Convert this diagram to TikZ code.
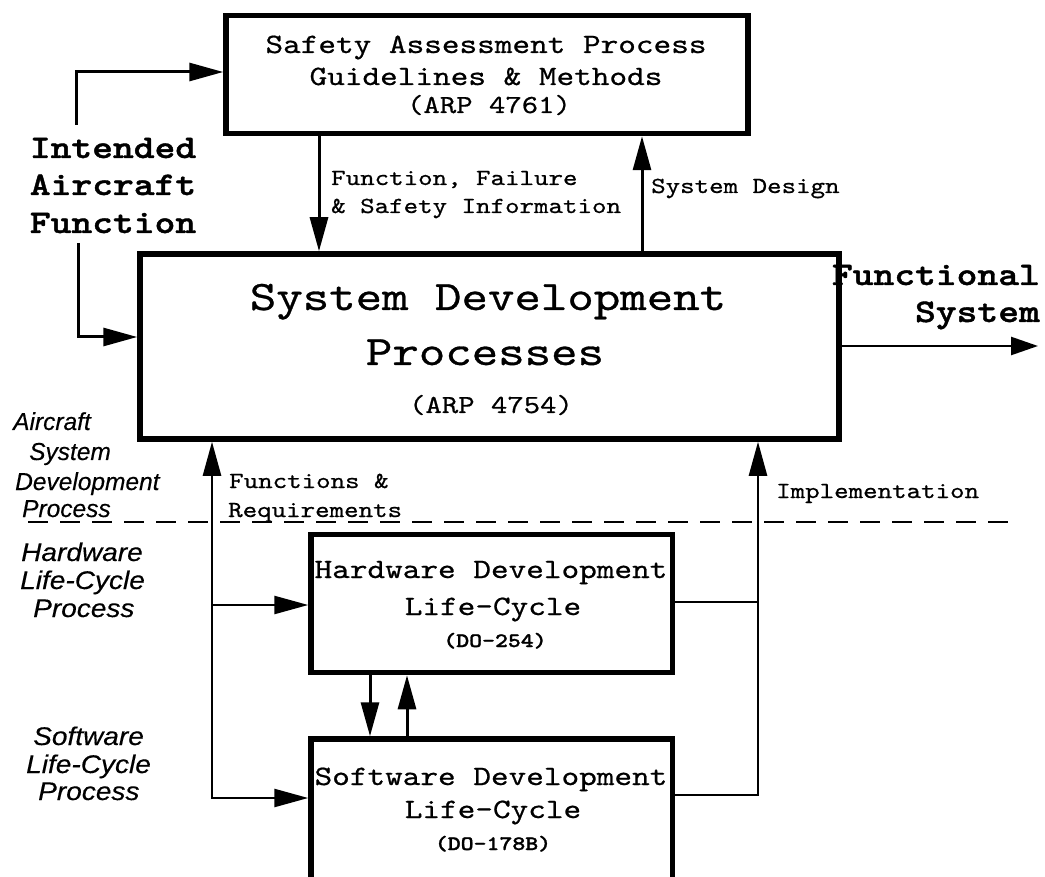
\documentclass[tikz,border=0pt]{standalone}
\usepackage{fontspec}
\usetikzlibrary{arrows.meta}
% Courier-like typewriter faces (Latin Modern Mono widened to Courier proportions)
\newfontfamily\mono[FakeStretch=1.2,FakeBold=0.7]{lmmono10-regular.otf}
\newfontfamily\monob[FakeStretch=1.2,FakeBold=1.2]{lmmonolt10-bold.otf}
% Helvetica-like italic side labels
\newfontfamily\helv[FakeBold=0.3]{Liberation Sans}
\newfontfamily\helvw[FakeStretch=1.1,FakeBold=0.3]{Liberation Sans}
\newcommand{\fsz}[1]{\fontsize{#1}{#1}\selectfont}

\begin{document}
\begin{tikzpicture}[x=1pt,y=-1pt,
  box/.style={draw, line width=5.5pt, rectangle, inner sep=0pt},
  txt/.style={inner sep=0pt, anchor=base},
  ltxt/.style={inner sep=0pt, anchor=base west},
  rtxt/.style={inner sep=0pt, anchor=base east},
  conn/.style={line width=3pt, -{Triangle[length=34pt,width=18pt]}},
  thinconn/.style={line width=2.5pt, -{Triangle[length=34pt,width=18pt]}},
  plainline/.style={line width=2.5pt},
  boxfont/.style={font=\mono\fsz{28}},
  reffont/.style={font=\mono\fsz{26}},
  bigfont/.style={font=\mono\fsz{42}},
  lblfont/.style={font=\mono\fsz{23}},
  boldlbl/.style={font=\monob\fsz{33}},
  docfont/.style={font=\monob\fsz{20.5}},
  sidefont/.style={font=\helv\itshape\fsz{24.5}},
  sidefontw/.style={font=\helvw\itshape\fsz{25.5}}]

\fill[white] (0,0) rectangle (1045,877);
\useasboundingbox (0,0) rectangle (1045,877);

% ---- process boxes ----
\node[box, minimum width=522pt, minimum height=118pt] (safety) at (487,74.5) {};
\node[box, minimum width=699pt, minimum height=185pt] (sdp) at (489.5,346.5) {};
\node[box, minimum width=361.5pt, minimum height=138pt] (hw) at (491.75,603.5) {};
\node[box, minimum width=361.5pt, minimum height=143pt] (sw) at (491.75,810.5) {};

% ---- box texts ----
\node[txt, boxfont] (safety1) at (486,53) {Safety Assessment Process};
\node[txt, boxfont] (safety2) at (486,85) {Guidelines \& Methods};
\node[txt, reffont] (safety3) at (489,113) {(ARP 4761)};

\node[txt, bigfont] (sdp1) at (488,310) {System Development};
\node[txt, bigfont] (sdp2) at (485,365) {Processes};
\node[txt, reffont] (sdp3) at (491,413) {(ARP 4754)};

\node[txt, boxfont] (hw1) at (491,578) {Hardware Development};
\node[txt, boxfont] (hw2) at (493,615) {Life-Cycle};
\node[txt, docfont] (hw3) at (495,647) {(DO-254)};

\node[txt, boxfont] (sw1) at (491,785) {Software Development};
\node[txt, boxfont] (sw2) at (493,818) {Life-Cycle};
\node[txt, docfont] (sw3) at (493,850) {(DO-178B)};

% ---- intended aircraft function ----
\node[txt, boldlbl] (iaf1) at (113,158) {Intended};
\node[txt, boldlbl] (iaf2) at (113,195) {Aircraft};
\node[txt, boldlbl] (iaf3) at (113,233) {Function};

\coordinate (iafup) at (76.5,125);
\coordinate (iafupturn) at (76.5,72);
\coordinate (iafdown) at (78,243);
\coordinate (iafdownturn) at (78,337);
\draw[conn] (iafup) -- (iafupturn) -- (iafupturn -| safety.west);
\draw[conn] (iafdown) -- (iafdownturn) -- (iafdownturn -| sdp.west);

% ---- safety <-> system development ----
\coordinate (ffx) at (319,0);
\coordinate (sdx) at (642,0);
\draw[conn] (ffx |- safety.south) -- (ffx |- sdp.north);
\draw[conn] (sdx |- sdp.north) -- (sdx |- safety.south);
\node[ltxt, lblfont] (ff1) at (331,185) {Function, Failure};
\node[ltxt, lblfont] (ff2) at (331,213) {\& Safety Information};
\node[ltxt, lblfont] (sd) at (651,193) {System Design};

% ---- functional system output ----
\node[rtxt, boldlbl] (fs1) at (1040,285) {Functional};
\node[rtxt, boldlbl] (fs2) at (1040,322) {System};
\coordinate (fsout) at (1038,346);
\draw[line width=2.5pt, -{Triangle[length=27pt,width=18pt]}] (fsout -| sdp.east) -- (fsout);

% ---- process boundary ----
\coordinate (dl) at (28,522);
\coordinate (dr) at (1017,522);
\draw[line width=1.3pt, dash pattern=on 20pt off 12pt] (dl) -- (dr);

% ---- side labels ----
\node[ltxt, sidefont] (asd1) at (13,430) {Aircraft};
\node[ltxt, sidefont] (asd2) at (29,460) {System};
\node[ltxt, sidefont] (asd3) at (15,490) {Development};
\node[ltxt, sidefont] (asd4) at (22,517) {Process};

\node[ltxt, sidefontw] (hlc1) at (21,561) {Hardware};
\node[ltxt, sidefontw] (hlc2) at (20,589) {Life-Cycle};
\node[ltxt, sidefontw] (hlc3) at (33,617) {Process};

\node[ltxt, sidefontw] (slc1) at (33,745) {Software};
\node[ltxt, sidefontw] (slc2) at (26,773) {Life-Cycle};
\node[ltxt, sidefontw] (slc3) at (38,800) {Process};

% ---- functions & requirements flow down ----
\coordinate (frhw) at (212,605);
\coordinate (frsw) at (212,798);
\draw[line width=2.5pt, {Triangle[length=34pt,width=18pt]}-{Triangle[length=34pt,width=18pt]}]
  (frsw |- sdp.south) -- (frsw) -- (frsw -| sw.west);
\draw[thinconn] (frhw) -- (frhw -| hw.west);
\node[ltxt, lblfont] (fr1) at (229,488) {Functions \&};
\node[ltxt, lblfont] (fr2) at (228,517) {Requirements};

% ---- implementation flow up ----
\coordinate (imhw) at (758,602);
\coordinate (imsw) at (758,795);
\draw[plainline] (imhw -| hw.east) -- (imhw);
\draw[thinconn] (imsw -| sw.east) -- (imsw) -- (imsw |- sdp.south);
\node[ltxt, lblfont] (impl) at (776,498) {Implementation};

% ---- hardware <-> software ----
\coordinate (hsdown) at (370,0);
\coordinate (hsup) at (407,0);
\draw[conn] (hsdown |- hw.south) -- (hsdown |- sw.north);
\draw[conn] (hsup |- sw.north) -- (hsup |- hw.south);

\end{tikzpicture}
\end{document}
